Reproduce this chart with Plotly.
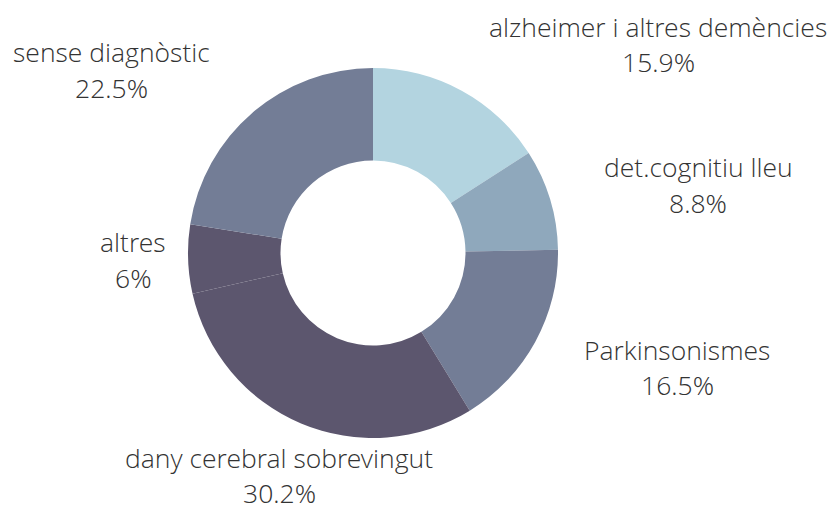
import plotly.graph_objects as go

# Dades
categories = ["alzheimer i altres demències", "det.cognitiu lleu", "Parkinsonismes",
              "dany cerebral sobrevingut", "altres", "sense diagnòstic"]
values = [15.9, 8.8, 16.5, 30.2, 6, 22.5]
colors = ["#b3d4e0", "#8fa8bc", "#737d96", "#5c566e", "#5c566e", "#737d96"]

# posicions de les etiquetes (centre del text, en píxels): nom, percentatge
label_pos = [(658, 27, 62), (698, 167, 203), (677, 350, 385),
             (279, 458, 493), (133, 242, 278), (112, 52, 88)]

W, H = 831, 509

fig = go.Figure()
fig.add_trace(go.Pie(
    labels=categories,
    values=values,
    hole=0.5,
    sort=False,
    direction="clockwise",
    rotation=0,
    textinfo="none",
    hoverinfo="label+percent",
    marker=dict(colors=colors, line=dict(width=0)),
    domain=dict(x=[188 / W, 558 / W], y=[(H - 438) / H, (H - 68) / H]),
    showlegend=False,
))

font = dict(family="Open Sans Light, Open Sans", size=26.5, color="#333333", weight=300)
for cat, val, (px, py1, py2) in zip(categories, values, label_pos):
    fig.add_annotation(text=cat, x=px / W, y=1 - py1 / H, xref="paper", yref="paper",
                       xanchor="center", yanchor="middle", showarrow=False, font=font)
    fig.add_annotation(text=f"{val:g}%", x=px / W, y=1 - py2 / H, xref="paper", yref="paper",
                       xanchor="center", yanchor="middle", showarrow=False, font=font)

fig.update_layout(
    width=W, height=H,
    margin=dict(l=0, r=0, t=0, b=0),
    paper_bgcolor="white",
    plot_bgcolor="white",
)

# treure el marge del body perquè la figura quedi a (0, 0)
fig.write_html("out.html", config={"displayModeBar": False},
               post_script="document.body.style.margin='0';")
